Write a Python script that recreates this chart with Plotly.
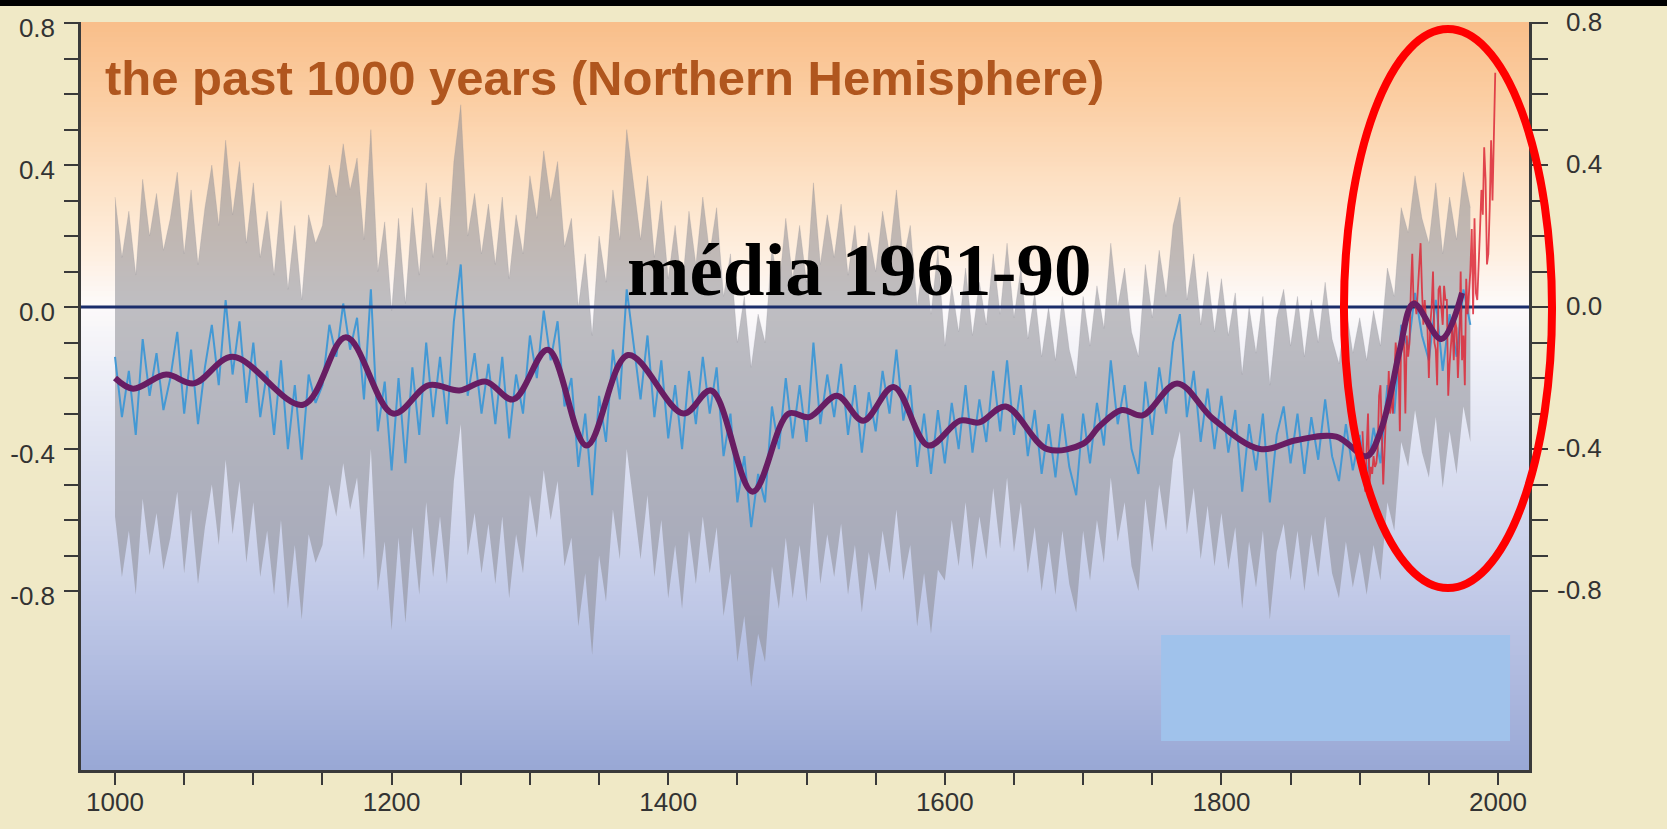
import plotly.graph_objects as go

# Northern Hemisphere reconstruction, sampled every 5 years (deg C vs 1961-90 mean)
RECON_START, RECON_END, RECON_STEP = 1000, 1980, 5
RECON_NH = [
    -0.14, -0.31, -0.18, -0.36, -0.09, -0.25, -0.13, -0.29, -0.20, -0.07,   # 1000
    -0.30, -0.12, -0.33, -0.17, -0.05, -0.22, 0.02, -0.19, -0.04, -0.27,    # 1050
    -0.10, -0.31, -0.18, -0.36, -0.15, -0.40, -0.22, -0.43, -0.19, -0.27,   # 1100
    -0.22, -0.05, -0.14, 0.01, -0.12, -0.03, -0.26, 0.05, -0.35, -0.21,     # 1150
    -0.46, -0.20, -0.44, -0.17, -0.36, -0.10, -0.31, -0.14, -0.33, -0.04,   # 1200
    0.12, -0.25, -0.13, -0.30, -0.16, -0.33, -0.14, -0.37, -0.19, -0.30,    # 1250
    -0.08, -0.20, -0.01, -0.15, -0.04, -0.28, -0.20, -0.45, -0.30, -0.53,   # 1300
    -0.25, -0.38, -0.12, -0.26, 0.05, -0.10, -0.26, -0.08, -0.31, -0.15,    # 1350
    -0.37, -0.22, -0.40, -0.18, -0.33, -0.14, -0.30, -0.17, -0.42, -0.30,   # 1400
    -0.55, -0.42, -0.62, -0.47, -0.55, -0.28, -0.40, -0.20, -0.37, -0.22,   # 1450
    -0.38, -0.10, -0.33, -0.19, -0.31, -0.16, -0.36, -0.22, -0.41, -0.24,   # 1500
    -0.35, -0.18, -0.30, -0.12, -0.32, -0.22, -0.45, -0.30, -0.47, -0.29,   # 1550
    -0.44, -0.27, -0.40, -0.22, -0.41, -0.26, -0.38, -0.18, -0.35, -0.15,   # 1600
    -0.36, -0.22, -0.42, -0.29, -0.47, -0.33, -0.48, -0.30, -0.45, -0.53,   # 1650
    -0.30, -0.44, -0.27, -0.39, -0.15, -0.33, -0.22, -0.40, -0.47, -0.21,   # 1700
    -0.36, -0.17, -0.30, -0.10, -0.02, -0.31, -0.18, -0.38, -0.23, -0.40,   # 1750
    -0.25, -0.41, -0.29, -0.52, -0.33, -0.46, -0.30, -0.55, -0.36, -0.28,   # 1800
    -0.44, -0.30, -0.47, -0.31, -0.43, -0.26, -0.42, -0.49, -0.33, -0.46,   # 1850
    -0.36, -0.48, -0.34, -0.44, -0.22, -0.30, -0.05, -0.12, 0.04, -0.08,    # 1900
    -0.15, 0.02, -0.18, -0.02, -0.14, 0.05, -0.05,                          # 1950
]

# two-sigma half width of the uncertainty range, by period
SIGMA_PERIOD_START = [1000, 1600]
SIGMA_HALF_WIDTH = [0.45, 0.33]

# 40-year smoothed reconstruction
SMOOTH_YEARS = [1000, 1013, 1037, 1057, 1085, 1136, 1167, 1201, 1227, 1249,
                1268, 1288, 1313, 1341, 1371, 1411, 1431, 1461, 1487, 1502,
                1522, 1541, 1563, 1588, 1611, 1625, 1644, 1674, 1700, 1712,
                1728, 1743, 1768, 1794, 1828, 1854, 1883, 1905, 1915, 1922,
                1929, 1939, 1959, 1974]
SMOOTH_NH = [-0.20, -0.23, -0.19, -0.215, -0.14, -0.275, -0.085, -0.30, -0.22, -0.235,
             -0.21, -0.26, -0.12, -0.39, -0.135, -0.30, -0.235, -0.52, -0.30, -0.31,
             -0.25, -0.32, -0.225, -0.39, -0.32, -0.325, -0.28, -0.40, -0.385, -0.335,
             -0.29, -0.305, -0.215, -0.315, -0.40, -0.375, -0.365, -0.42, -0.35, -0.25,
             -0.12, 0.01, -0.09, 0.04]

# instrumental record, annual from 1902
INSTR_START = 1902
INSTR_NH = [
    -0.35, -0.45, -0.52, -0.40, -0.30, -0.50, -0.45, -0.47, -0.42, -0.45,   # 1902
    -0.44, -0.40, -0.25, -0.22, -0.36, -0.50, -0.40, -0.30, -0.30, -0.18,   # 1912
    -0.30, -0.25, -0.30, -0.20, -0.10, -0.15, -0.14, -0.35, -0.08, -0.05,   # 1922
    -0.10, -0.30, -0.08, -0.14, -0.10, 0.05, 0.15, 0.00, 0.02, -0.02,       # 1932
    0.05, 0.10, 0.18, 0.05, -0.05, 0.02, -0.04, -0.06, -0.20, -0.05,        # 1942
    0.00, 0.10, -0.10, -0.12, -0.22, 0.05, 0.06, 0.00, -0.05, 0.06,         # 1952
    0.02, 0.02, -0.25, -0.16, -0.10, -0.05, -0.15, -0.04, -0.06, -0.20,     # 1962
    -0.10, 0.10, -0.15, -0.08, -0.22, 0.08, -0.02, 0.05, 0.10, 0.22,        # 1972
    -0.02, 0.25, 0.04, 0.02, 0.10, 0.22, 0.33, 0.26, 0.45, 0.36,            # 1982
    0.12, 0.15, 0.28, 0.47, 0.30, 0.50, 0.66,                               # 1992
]

REFERENCE_MEAN = 0.0

X_TICKS = list(range(1000, 2001, 50))
X_LABEL_YEARS = [1000, 1200, 1400, 1600, 1800, 2000]
Y_TICKS = [round(-0.8 + 0.1 * i, 1) for i in range(17)]
Y_LABEL_VALUES = [0.8, 0.4, 0.0, -0.4, -0.8]
Y_LABEL_TEXT = ["0.8", "0.4", "0.0", "-0.4", "-0.8"]

X_RANGE = [975.4, 2022.4]
Y_RANGE = [-1.304, 0.803]

# ---------------------------------------------------------------------------
recon_years = list(range(RECON_START, RECON_END + 1, RECON_STEP))
instr_years = list(range(INSTR_START, INSTR_START + len(INSTR_NH)))


def half_width(year):
    w = SIGMA_HALF_WIDTH[0]
    for start, hw in zip(SIGMA_PERIOD_START, SIGMA_HALF_WIDTH):
        if year >= start:
            w = hw
    return w


band_hi = [v + half_width(y) for y, v in zip(recon_years, RECON_NH)]
band_lo = [v - half_width(y) for y, v in zip(recon_years, RECON_NH)]

fig = go.Figure()

# uncertainty range
fig.add_trace(go.Scatter(x=recon_years, y=band_lo, mode="lines",
                         line=dict(width=0, color="rgba(0,0,0,0)"),
                         hoverinfo="skip", showlegend=False))
fig.add_trace(go.Scatter(x=recon_years, y=band_hi, mode="lines",
                         line=dict(width=0.6, color="rgba(140,140,148,0.35)"),
                         fill="tonexty", fillcolor="rgba(140,140,148,0.55)",
                         hoverinfo="skip", showlegend=False))

# reconstruction
fig.add_trace(go.Scatter(x=recon_years, y=RECON_NH, mode="lines",
                         line=dict(width=2, color="#4499D4"),
                         showlegend=False))

# 1961-90 reference level
fig.add_trace(go.Scatter(x=X_RANGE, y=[REFERENCE_MEAN, REFERENCE_MEAN], mode="lines",
                         line=dict(width=3, color="#1A2D6B"),
                         hoverinfo="skip", showlegend=False))

# instrumental data
fig.add_trace(go.Scatter(x=instr_years, y=INSTR_NH, mode="lines",
                         line=dict(width=1.8, color="rgba(220,40,55,0.85)"),
                         showlegend=False))

# smoothed curve
fig.add_trace(go.Scatter(x=SMOOTH_YEARS, y=SMOOTH_NH, mode="lines",
                         line=dict(width=6, color="#681D63", shape="spline", smoothing=1.0),
                         showlegend=False))

# right-hand axis carrier
fig.add_trace(go.Scatter(x=[], y=[], yaxis="y2", showlegend=False, hoverinfo="skip"))

# --- plot area background gradient (orange -> white -> blue) ---
stops = [
    (0.000, (152, 167, 213)),
    (0.107, (172, 184, 222)),
    (0.241, (195, 203, 232)),
    (0.401, (218, 222, 240)),
    (0.535, (238, 239, 247)),
    (0.622, (253, 250, 250)),
    (0.695, (254, 238, 222)),
    (0.789, (253, 224, 195)),
    (0.896, (251, 206, 163)),
    (1.000, (249, 190, 138)),
]


def grad_color(t):
    for (t0, c0), (t1, c1) in zip(stops[:-1], stops[1:]):
        if t0 <= t <= t1:
            f = (t - t0) / (t1 - t0)
            return "rgb(%d,%d,%d)" % tuple(round(a + (b - a) * f) for a, b in zip(c0, c1))
    return "rgb(%d,%d,%d)" % stops[-1][1]


shapes = []
N = 150
for i in range(N):
    y0 = i / N
    y1 = (i + 1) / N
    shapes.append(dict(type="rect", xref="paper", yref="paper",
                       x0=0, x1=1, y0=y0, y1=min(1.0, y1 + 0.002),
                       fillcolor=grad_color((y0 + y1) / 2),
                       line=dict(width=0), layer="below"))

# dark strip along the top edge of the page
shapes.append(dict(type="rect", xref="paper", yref="paper",
                   x0=-0.06, x1=1.1, y0=1.0214, y1=1.04,
                   fillcolor="black", line=dict(width=0), layer="above"))

# pale blue panel, lower right
shapes.append(dict(type="rect", xref="paper", yref="paper",
                   x0=0.7459, x1=0.9869, y0=0.0388, y1=0.1805,
                   fillcolor="#A0C2EB", line=dict(width=0), layer="above"))

# red ellipse around the 20th century
shapes.append(dict(type="circle", xref="paper", yref="paper",
                   x0=0.8722, x1=1.0159, y0=0.2433, y1=0.9906,
                   line=dict(color="#FF0000", width=8),
                   fillcolor="rgba(0,0,0,0)", layer="above"))

annotations = [
    dict(text="<b>the past 1000 years (Northern Hemisphere)</b>",
         xref="paper", yref="paper", x=0.0155, y=0.9251,
         xanchor="left", yanchor="middle", showarrow=False,
         font=dict(family="Liberation Sans, Arial, sans-serif", size=49, color="#B0561E")),
    dict(text="<b>média 1961-90</b>",
         xref="paper", yref="paper", x=0.5375, y=0.6690,
         xanchor="center", yanchor="middle", showarrow=False,
         font=dict(family="Liberation Serif, Times New Roman, serif", size=75, color="black")),
]

label_font = dict(family="Liberation Sans, Arial, sans-serif", size=26, color="#333333")

for val, txt in zip(Y_LABEL_VALUES, Y_LABEL_TEXT):
    annotations.append(dict(text=txt, xref="paper", yref="y", x=1.0518, y=val,
                            xanchor="right", yanchor="middle", yshift=1,
                            showarrow=False, font=label_font))

axis_color = "#3a3a3a"

fig.update_layout(
    width=1667, height=829,
    margin=dict(l=81, r=138, t=22, b=59, autoexpand=False),
    paper_bgcolor="#F0E9C6",
    plot_bgcolor="rgba(0,0,0,0)",
    showlegend=False,
    shapes=shapes,
    annotations=annotations,
    xaxis=dict(range=X_RANGE, showgrid=False, zeroline=False, automargin=False,
               showline=True, linecolor=axis_color, linewidth=3,
               ticks="outside", ticklen=12, tickwidth=2, tickcolor=axis_color,
               tickvals=X_TICKS,
               ticktext=[str(y) if y in X_LABEL_YEARS else "" for y in X_TICKS],
               tickfont=label_font, ticklabelstandoff=-5),
    yaxis=dict(range=Y_RANGE, showgrid=False, zeroline=False, automargin=False,
               showline=True, linecolor=axis_color, linewidth=2.5,
               ticks="outside", ticklen=14, tickwidth=2, tickcolor=axis_color,
               tickvals=Y_TICKS,
               ticktext=[Y_LABEL_TEXT[Y_LABEL_VALUES.index(v)] if v in Y_LABEL_VALUES else ""
                         for v in Y_TICKS],
               tickfont=label_font, ticklabelshift=5, ticklabelstandoff=4),
    yaxis2=dict(range=Y_RANGE, overlaying="y", side="right", anchor="x",
                showgrid=False, zeroline=False, automargin=False,
                showline=True, linecolor=axis_color, linewidth=3,
                ticks="outside", ticklen=16, tickwidth=2, tickcolor=axis_color,
                tickvals=Y_TICKS, showticklabels=False),
)

fig.write_html("out.html")
